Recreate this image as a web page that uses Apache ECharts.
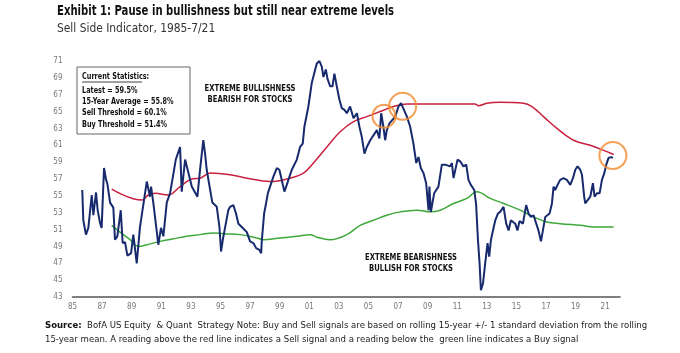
<!DOCTYPE html>
<html>
<head>
<meta charset="utf-8">
<script src="https://cdn.jsdelivr.net/npm/echarts@6/dist/echarts.min.js"></script>
<style>
  html, body { margin: 0; padding: 0; background: #fff; }
  #chart { width: 680px; height: 353px; }
</style>
</head>
<body>
<div id="chart"></div>
<script>
// Sell side indicator (blue)
const indicatorDates = [1985.66, 1985.73, 1985.91, 1986.07, 1986.30, 1986.41, 1986.59, 1986.70, 1986.86, 1986.97,
  1987.13, 1987.27, 1987.35, 1987.54, 1987.76, 1987.87, 1988.03, 1988.26, 1988.39, 1988.55, 1988.71, 1988.96,
  1989.11, 1989.34, 1989.56, 1990.02, 1990.24, 1990.31, 1990.46, 1990.80, 1990.98, 1991.14, 1991.37, 1991.59,
  1991.77, 1991.98, 1992.27, 1992.38, 1992.61, 1993.06, 1993.44, 1993.62, 1993.84, 1993.96, 1994.07, 1994.45,
  1994.75, 1994.93, 1995.04, 1995.16, 1995.53, 1995.65, 1995.87, 1996.05, 1996.21, 1996.44, 1996.78, 1997.00,
  1997.22, 1997.41, 1997.63, 1997.75, 1997.79, 1997.95, 1998.08, 1998.20, 1998.35, 1998.58, 1998.81, 1998.98,
  1999.14, 1999.32, 1999.48, 1999.59, 1999.82, 2000.16, 2000.38, 2000.56, 2000.67, 2000.94, 2001.17, 2001.40,
  2001.51, 2001.69, 2001.85, 2001.96, 2002.12, 2002.23, 2002.41, 2002.57, 2002.70, 2002.86, 2003.04, 2003.20,
  2003.38, 2003.54, 2003.76, 2003.99, 2004.22, 2004.39, 2004.55, 2004.73, 2004.89, 2005.12, 2005.57, 2005.74,
  2005.86, 2006.01, 2006.13, 2006.24, 2006.42, 2006.81, 2007.03, 2007.20, 2007.60, 2007.82, 2008.04, 2008.23,
  2008.38, 2008.54, 2008.72, 2008.90, 2009.06, 2009.12, 2009.22, 2009.44, 2009.58, 2009.73, 2009.96, 2010.19,
  2010.52, 2010.64, 2010.75, 2011.02, 2011.20, 2011.42, 2011.61, 2011.76, 2011.92, 2012.15, 2012.28, 2012.40,
  2012.51, 2012.60, 2012.74, 2012.89, 2013.05, 2013.16, 2013.28, 2013.57, 2013.75, 2013.90, 2014.13, 2014.31,
  2014.47, 2014.63, 2014.92, 2015.07, 2015.21, 2015.44, 2015.66, 2015.82, 2015.98, 2016.16, 2016.34, 2016.49,
  2016.66, 2016.79, 2016.95, 2017.06, 2017.24, 2017.40, 2017.51, 2017.62, 2017.78, 2017.96, 2018.18, 2018.41,
  2018.64, 2018.82, 2018.98, 2019.13, 2019.31, 2019.43, 2019.58, 2019.65, 2019.99, 2020.17, 2020.28, 2020.44,
  2020.62, 2020.78, 2020.94, 2021.07, 2021.23, 2021.39, 2021.52];
const indicatorValues = [55.7, 52.1, 50.4, 51.2, 55.1, 52.7, 55.4, 53.3, 51.8, 51.2,
  58.3, 56.9, 56.5, 54.2, 53.6, 49.8, 50.2, 53.3, 49.4, 49.5, 47.9, 48.2,
  50.4, 47.0, 51.3, 56.7, 54.9, 56.1, 54.2, 49.2, 51.2, 50.2, 54.2, 55.3,
  57.1, 59.3, 60.8, 55.5, 59.3, 56.1, 54.9, 58.1, 61.6, 60.0, 58.1, 54.2,
  53.7, 51.3, 48.4, 49.8, 53.3, 53.7, 53.9, 52.9, 51.7, 51.3, 50.7, 49.6,
  49.4, 48.8, 48.6, 48.2, 49.6, 52.9, 54.1, 55.3, 56.1, 57.3, 58.3, 58.1,
  56.9, 55.5, 56.3, 56.9, 58.1, 59.3, 60.8, 61.2, 63.2, 65.6, 68.4, 70.0,
  70.7, 71.0, 70.3, 69.1, 70.0, 68.9, 68.0, 68.0, 69.5, 68.0, 66.4, 65.4,
  65.2, 64.8, 65.6, 64.2, 64.8, 63.2, 62.0, 60.0, 60.8, 61.6, 62.8, 61.8,
  64.8, 63.2, 61.6, 62.8, 63.6, 64.4, 65.6, 66.0, 64.4, 63.2, 61.2, 58.9,
  59.6, 58.3, 57.7, 56.5, 53.3, 56.1, 53.1, 55.3, 55.7, 56.1, 58.7, 58.7,
  58.5, 58.9, 57.1, 59.3, 59.1, 58.5, 58.7, 56.9, 56.3, 55.7, 53.9, 49.8,
  47.0, 43.8, 44.6, 47.0, 49.4, 47.8, 49.8, 52.1, 52.9, 53.1, 53.7, 51.7,
  50.9, 52.1, 51.7, 50.9, 52.0, 51.7, 53.9, 52.9, 52.5, 52.7, 51.7, 50.9,
  49.6, 49.8, 52.5, 52.7, 52.9, 54.1, 56.1, 55.7, 56.3, 56.9, 57.1, 56.9,
  56.3, 57.1, 58.1, 58.5, 58.1, 57.5, 54.9, 54.1, 54.9, 56.5, 54.9, 55.3,
  55.3, 56.9, 57.7, 58.7, 59.5, 59.6, 59.5];

// sell threshold (red)
const sellDates = [1987.65, 1989.68, 1990.13, 1990.58, 1991.48, 1992.27, 1993.06, 1993.62, 1994.30, 1995.65,
  1996.78, 1998.35, 1999.70, 2000.61, 2001.28, 2002.19, 2003.09, 2003.99, 2004.89, 2005.79, 2006.69, 2007.60,
  2008.95, 2010.52, 2012.20, 2012.44, 2013.00, 2013.90, 2015.48, 2016.05, 2016.83, 2017.74, 2018.86, 2019.99,
  2020.89, 2021.57];
const sellValues = [55.8, 54.5, 55.1, 55.3, 55.1, 56.1, 57.0, 57.1, 57.7, 57.5,
  57.1, 56.7, 57.1, 57.7, 58.9, 60.8, 62.6, 63.8, 64.4, 65.0, 65.6, 65.9,
  65.9, 65.9, 65.9, 65.7, 66.0, 66.1, 66.0, 65.6, 64.4, 63.0, 61.6, 61.0,
  60.4, 59.9];

// buy threshold (green)
const buyDates = [1987.65, 1988.21, 1988.89, 1989.45, 1990.02, 1990.92, 1991.82, 1992.72, 1993.62, 1994.52,
  1995.20, 1996.33, 1997.45, 1997.90, 1999.03, 2000.16, 2001.06, 2001.51, 2002.41, 2003.54, 2004.44, 2005.34,
  2006.24, 2007.15, 2008.27, 2009.17, 2009.85, 2010.75, 2011.65, 2012.33, 2013.23, 2014.13, 2015.26, 2016.16,
  2017.06, 2017.96, 2019.31, 2020.44, 2021.57];
const buyValues = [51.5, 50.7, 49.8, 49.0, 49.2, 49.6, 49.9, 50.2, 50.4, 50.6,
  50.5, 50.4, 50.0, 49.8, 50.0, 50.2, 50.4, 50.1, 49.8, 50.4, 51.5, 52.1,
  52.7, 53.1, 53.3, 53.1, 53.3, 54.1, 54.7, 55.5, 54.7, 54.1, 53.3, 52.5,
  51.9, 51.7, 51.5, 51.3, 51.3];

// highlighted signals (orange circles)
const signalDates = [2006.05, 2007.31, 2021.52];
const signalValues = [64.45, 65.63, 59.79];

const xTicks = [1985, 1987, 1989, 1991, 1993, 1995, 1997, 1999, 2001, 2003, 2005, 2007, 2009, 2011, 2013, 2015, 2017, 2019, 2021];
const yTicks = [43, 45, 47, 49, 51, 53, 55, 57, 59, 61, 63, 65, 67, 69, 71];

const statsLines = ['Latest = 59.5%', '15-Year Average = 55.8%', 'Sell Threshold = 60.1%', 'Buy Threshold = 51.4%'];

const zip = (xs, ys) => xs.map((x, i) => [x, ys[i]]);

const narrow = '"Liberation Sans Narrow", "DejaVu Sans Condensed", sans-serif';

const chart = echarts.init(document.getElementById('chart'));

// condensed text helper (the original uses a very narrow face)
const label = (x, y, text, font, opts) => {
    opts = opts || {};
    return {
        type: 'text', x: x, y: y, z: opts.z || 1, scaleX: opts.scaleX || 0.8,
        style: { text: text, font: font, fill: opts.fill || '#111', align: opts.align || 'left' }
    };
};

const option = {
    animation: false,
    backgroundColor: '#fff',
    grid: { left: 72.5, right: 60, top: 61, bottom: 56 },
    xAxis: {
        type: 'value',
        min: 1985,
        max: 2022,
        axisLine: { show: true, lineStyle: { color: '#555', width: 1.5 } },
        axisTick: { show: false },
        splitLine: { show: false },
        axisLabel: {
            customValues: xTicks,
            color: '#777',
            fontSize: 8,
            fontFamily: narrow,
            margin: 6,
            formatter: v => String(Math.round(v) % 100).padStart(2, '0')
        }
    },
    yAxis: {
        type: 'value',
        min: 43,
        max: 71,
        axisLine: { show: false },
        axisTick: { show: false },
        splitLine: { show: false },
        axisLabel: {
            customValues: yTicks,
            color: '#777',
            fontSize: 8,
            fontFamily: narrow,
            margin: 10
        }
    },
    series: [
        {
            name: 'Sell Threshold',
            type: 'line',
            data: zip(sellDates, sellValues),
            smooth: 0.4,
            symbol: 'none',
            lineStyle: { color: '#c8203f', width: 1.5 },
            z: 2
        },
        {
            name: 'Buy Threshold',
            type: 'line',
            data: zip(buyDates, buyValues),
            smooth: 0.4,
            symbol: 'none',
            lineStyle: { color: '#3ea83a', width: 1.5 },
            z: 2
        },
        {
            name: 'Sell Side Indicator',
            type: 'line',
            data: zip(indicatorDates, indicatorValues),
            symbol: 'none',
            clip: false,
            lineStyle: { color: '#172a6e', width: 2 },
            z: 3
        },
        {
            name: 'Signals',
            type: 'scatter',
            data: zip(signalDates, signalValues),
            symbol: 'circle',
            symbolSize: (val, p) => [23, 27, 27][p.dataIndex],
            itemStyle: { color: 'rgba(0,0,0,0)', borderColor: '#f28a2e', borderWidth: 2 },
            z: 4
        }
    ],
    graphic: [
        // title block
        label(57, 4, 'Exhibit 1: Pause in bullishness but still near extreme levels', 'bold 14px ' + narrow),
        label(57, 22, 'Sell Side Indicator, 1985-7/21', '12.5px ' + narrow, { scaleX: 0.95, fill: '#333' }),
        // stats box
        { type: 'rect', shape: { x: 77, y: 67, width: 113, height: 67 }, style: { fill: '#fff', stroke: '#666', lineWidth: 1 }, z: 10 },
        label(82, 72, 'Current Statistics:', 'bold 9.5px ' + narrow, { z: 11, scaleX: 0.76 }),
        { type: 'line', shape: { x1: 82, y1: 82, x2: 142, y2: 82 }, style: { stroke: '#111', lineWidth: 0.8 }, z: 11 },
        ...statsLines.map((t, i) => label(82, 85.5 + i * 11.2, t, 'bold 9.5px ' + narrow, { z: 11, scaleX: 0.76 })),
        // zone annotations
        label(250, 84, 'EXTREME BULLISHNESS', 'bold 9.5px ' + narrow, { align: 'center' }),
        label(250, 95, 'BEARISH FOR STOCKS', 'bold 9.5px ' + narrow, { align: 'center' }),
        label(411, 253, 'EXTREME BEARISHNESS', 'bold 9.5px ' + narrow, { align: 'center' }),
        label(411, 264, 'BULLISH FOR STOCKS', 'bold 9.5px ' + narrow, { align: 'center' }),
        // footer
        { type: 'text', x: 45, y: 321, style: { rich: { b: { font: 'bold 9.5px ' + narrow, fill: '#111' }, n: { font: '9.5px ' + narrow, fill: '#222' } },
            text: '{b|Source:}{n|  BofA US Equity  & Quant  Strategy Note: Buy and Sell signals are based on rolling 15-year +/- 1 standard deviation from the rolling}' } },
        { type: 'text', x: 45, y: 335, style: { text: '15-year mean. A reading above the red line indicates a Sell signal and a reading below the  green line indicates a Buy signal', font: '9.5px ' + narrow, fill: '#222' } }
    ]
};

chart.setOption(option);
</script>
</body>
</html>
